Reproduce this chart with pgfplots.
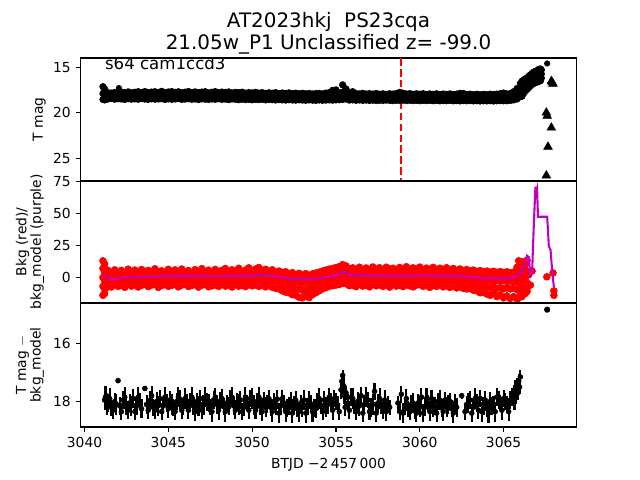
\documentclass[border=0pt]{standalone}
\usepackage{pgfplots}
\pgfplotsset{compat=1.18}
\usepackage{pgfplotstable}
\usepackage{fontspec}
\setmainfont{DejaVu Sans}
\definecolor{mpurple}{rgb}{0.75,0,0.75}

% Panel 1: T mag band (upper, middle, lower points)
\pgfplotstableread{
x a c b
3041.1 17.15 17.90 18.55
3041.2 17.40 18.00 18.60
3041.4 17.80 18.12 18.50
3041.6 17.85 18.18 18.45
3041.8 17.78 18.10 18.52
3042.0 17.82 18.20 18.48
3042.2 17.75 18.12 18.50
3042.4 17.80 18.15 18.55
3042.6 17.72 18.08 18.47
3042.8 17.83 18.20 18.52
3043.0 17.76 18.10 18.49
3043.2 17.70 18.14 18.53
3043.4 17.79 18.12 18.46
3043.6 17.68 18.08 18.51
3043.8 17.81 18.18 18.54
3044.0 17.74 18.10 18.48
3044.2 17.70 18.12 18.52
3044.4 17.78 18.16 18.50
3044.6 17.66 18.05 18.47
3044.8 17.80 18.18 18.55
3045.0 17.73 18.10 18.49
3045.2 17.69 18.12 18.53
3045.4 17.77 18.15 18.50
3045.6 17.71 18.08 18.46
3045.8 17.82 18.19 18.54
3046.0 17.75 18.13 18.51
3046.2 17.68 18.07 18.48
3046.4 17.79 18.16 18.53
3046.6 17.72 18.10 18.50
3046.8 17.80 18.19 18.56
3047.0 17.74 18.12 18.49
3047.2 17.70 18.10 18.52
3047.4 17.83 18.20 18.55
3047.6 17.76 18.14 18.50
3047.8 17.69 18.10 18.53
3048.0 17.81 18.15 18.48
3048.2 17.74 18.13 18.54
3048.4 17.78 18.15 18.51
3048.6 17.72 18.14 18.57
3048.8 17.84 18.18 18.50
3049.0 17.77 18.15 18.53
3049.2 17.80 18.20 18.58
3049.4 17.75 18.14 18.52
3049.6 17.86 18.22 18.56
3049.8 17.79 18.16 18.54
3050.0 17.83 18.21 18.59
3050.2 17.77 18.16 18.55
3050.4 17.85 18.22 18.57
3050.6 17.80 18.17 18.53
3050.8 17.88 18.24 18.60
3051.0 17.82 18.19 18.56
3051.2 17.86 18.22 18.58
3051.4 17.80 18.20 18.61
3051.6 17.89 18.23 18.57
3051.8 17.84 18.22 18.60
3052.0 17.88 18.25 18.62
3052.2 17.83 18.20 18.58
3052.4 17.90 18.26 18.61
3052.6 17.86 18.24 18.63
3052.8 17.92 18.26 18.59
3053.0 17.87 18.25 18.62
3053.2 17.93 18.28 18.64
3053.4 17.89 18.24 18.60
3053.6 17.95 18.29 18.63
3053.8 17.90 18.27 18.65
3054.0 17.88 18.24 18.61
3054.2 17.94 18.29 18.64
3054.4 17.85 18.23 18.62
3054.6 17.80 18.20 18.60
3054.8 17.55 18.10 18.63
3055.0 17.50 18.05 18.60
3055.2 17.80 18.19 18.58
3055.4 16.95 17.75 18.55
3055.6 17.40 17.95 18.50
3055.8 17.85 18.24 18.62
3056.0 17.70 18.15 18.60
3056.2 17.90 18.27 18.64
3056.4 17.94 18.28 18.61
3056.6 17.88 18.26 18.65
3056.8 17.95 18.29 18.62
3057.0 17.91 18.28 18.66
3057.2 17.96 18.30 18.63
3057.4 17.90 18.28 18.67
3057.6 17.97 18.31 18.64
3057.8 17.93 18.30 18.66
3058.0 17.98 18.30 18.62
3058.2 17.92 18.28 18.65
3058.4 17.96 18.32 18.68
3058.6 17.90 18.27 18.64
3058.8 17.78 18.22 18.66
3059.0 17.85 18.24 18.63
3059.2 17.95 18.31 18.67
3059.4 17.91 18.28 18.64
3059.6 17.98 18.33 18.68
3059.8 17.93 18.29 18.65
3060.0 17.97 18.33 18.69
3060.2 17.92 18.29 18.66
3060.4 17.99 18.34 18.68
3060.6 17.94 18.30 18.65
3060.8 17.98 18.33 18.69
3061.0 17.93 18.30 18.66
3061.2 18.00 18.35 18.70
3061.4 17.95 18.31 18.67
3061.6 17.99 18.34 18.69
3061.8 17.94 18.30 18.66
3062.0 18.01 18.36 18.70
3062.2 17.96 18.32 18.68
3062.4 17.88 18.30 18.71
3062.6 17.90 18.28 18.67
3062.8 18.00 18.35 18.70
3063.0 17.97 18.32 18.68
3063.2 18.02 18.36 18.71
3063.4 17.98 18.33 18.69
3063.6 18.03 18.38 18.72
3063.8 17.99 18.34 18.70
3064.0 18.02 18.36 18.71
3064.2 17.97 18.33 18.69
3064.4 18.01 18.37 18.72
3064.6 17.96 18.33 18.70
3064.8 17.92 18.30 18.68
3065.0 17.85 18.27 18.70
3065.2 17.95 18.32 18.69
3065.4 17.90 18.28 18.66
3065.6 17.70 18.15 18.60
3065.8 17.35 17.95 18.50
3066.0 16.80 17.55 18.25
}\tabOne

% Panel 1: late rise (upper, middle, lower)
\pgfplotstableread{
x a m b
3066.1 16.55 17.40 18.20
3066.2 16.40 17.10 17.85
3066.3 16.30 16.90 17.60
3066.4 16.20 16.80 17.45
3066.5 16.00 16.60 17.25
3066.6 15.85 16.40 17.05
3066.7 15.70 16.25 16.90
3066.8 15.55 16.10 16.80
3066.9 15.45 16.00 16.70
3067.0 15.40 15.95 16.65
3067.1 15.25 15.85 16.55
3067.2 15.20 15.80 16.50
3067.25 15.30 15.75 16.20
}\tabOneb

% Panel 2: background points (five levels per time)
\pgfplotstableread{
x u a m b l
3041.1 13.0 7.0 0.0 -7.0 -14.0
3041.2 10.5 4.0 -3.0 -9.0 -12.5
3041.3 6.0 2.0 -1.0 -4.0 -8.0
3041.4 5.5 1.5 -1.5 -4.5 -6.5
3041.6 3.5 1.0 -2.0 -4.0 -7.5
3041.8 6.0 2.5 -1.0 -3.5 -5.5
3042.0 4.0 0.5 -2.5 -5.0 -7.0
3042.2 5.5 2.0 -0.5 -3.0 -6.0
3042.4 3.0 1.5 -1.5 -4.5 -7.8
3042.6 6.5 2.8 0.0 -3.2 -5.2
3042.8 4.2 0.8 -2.0 -4.8 -6.8
3043.0 5.8 2.2 -1.2 -3.8 -5.8
3043.2 3.5 1.2 -0.8 -4.2 -7.5
3043.4 6.2 3.0 -1.8 -3.0 -6.2
3043.6 4.8 1.0 -0.5 -5.2 -5.0
3043.8 5.5 2.5 -1.5 -3.5 -7.2
3044.0 3.8 0.8 -2.2 -4.5 -6.0
3044.2 6.8 2.0 -0.2 -3.8 -5.5
3044.4 4.5 1.5 -1.0 -5.0 -7.8
3044.6 5.2 2.8 -1.8 -3.2 -6.4
3044.8 3.6 1.2 -0.6 -4.4 -5.3
3045.0 6.4 2.4 -1.4 -3.6 -7.0
3045.2 4.4 0.6 -0.4 -4.8 -6.2
3045.4 5.9 2.6 -2.0 -3.4 -5.6
3045.6 3.9 1.4 -0.8 -5.2 -7.4
3045.8 6.6 2.2 -1.2 -3.0 -6.0
3046.0 4.6 0.9 -0.3 -4.6 -5.2
3046.2 5.4 2.9 -1.7 -3.9 -7.1
3046.4 3.7 1.6 -0.9 -4.3 -6.3
3046.6 6.1 2.1 -1.3 -3.3 -5.7
3046.8 4.3 0.7 -0.5 -5.0 -7.6
3047.0 6.9 2.7 -1.9 -3.7 -6.1
3047.2 4.0 1.3 -0.7 -4.1 -5.4
3047.4 5.7 2.3 -1.1 -3.5 -7.3
3047.6 3.8 0.5 -0.2 -4.9 -6.6
3047.8 6.3 2.6 -1.6 -3.1 -5.9
3048.0 4.7 1.1 -0.9 -4.7 -7.0
3048.2 5.5 2.8 -1.4 -3.6 -5.5
3048.4 7.0 1.7 -0.4 -4.4 -6.8
3048.6 4.1 2.2 -1.8 -3.3 -6.0
3048.8 6.0 1.0 -0.6 -5.1 -7.5
3049.0 4.9 2.5 -1.2 -3.8 -5.6
3049.2 7.2 1.8 -0.3 -4.2 -6.9
3049.4 4.4 2.9 -1.5 -3.4 -6.2
3049.6 5.8 1.4 -0.1 -4.8 -7.2
3049.8 7.5 3.1 0.2 -3.6 -5.8
3050.0 5.0 2.0 -0.5 -4.0 -6.6
3050.2 6.6 3.3 0.5 -3.2 -5.9
3050.4 7.8 2.5 -0.2 -4.5 -7.0
3050.6 5.2 3.0 0.4 -3.5 -6.0
3050.8 6.4 2.2 -0.7 -4.1 -7.4
3051.0 4.8 1.6 -0.3 -4.6 -6.3
3051.2 6.0 2.4 -1.0 -5.2 -7.8
3051.4 4.2 1.2 -1.6 -5.5 -8.5
3051.6 5.0 0.8 -2.2 -6.0 -9.0
3051.8 3.6 0.5 -2.8 -6.8 -10.5
3052.0 4.5 0.2 -2.5 -7.5 -11.5
3052.2 2.8 -0.5 -3.5 -8.0 -12.0
3052.4 3.8 0.0 -3.0 -8.5 -13.5
3052.6 2.2 -0.8 -4.0 -9.5 -14.0
3052.8 3.2 -0.2 -3.6 -9.0 -15.5
3053.0 1.8 -1.0 -4.5 -10.0 -16.0
3053.2 3.0 -0.5 -4.0 -9.5 -14.5
3053.4 1.5 -1.2 -5.0 -10.5 -15.8
3053.6 2.8 -0.4 -3.5 -8.5 -13.5
3053.8 3.5 0.0 -3.0 -7.5 -12.0
3054.0 4.2 0.8 -2.5 -6.5 -10.5
3054.2 5.0 1.5 -2.0 -5.5 -9.0
3054.4 5.8 2.0 -1.5 -5.0 -8.0
3054.6 6.5 2.5 -0.8 -4.5 -7.0
3054.8 7.0 3.2 0.0 -4.0 -6.5
3055.0 7.8 3.8 0.8 -3.5 -6.0
3055.2 8.5 4.2 1.5 -3.0 -5.5
3055.4 10.0 5.5 2.5 -2.0 -4.5
3055.6 9.0 4.8 1.8 -2.5 -5.0
3055.8 7.0 3.0 0.5 -3.5 -6.5
3056.0 7.5 3.5 0.0 -3.5 -6.0
3056.2 6.0 2.8 -0.5 -4.0 -7.2
3056.4 8.0 3.2 0.4 -3.0 -5.5
3056.6 6.2 2.4 -0.8 -4.4 -6.8
3056.8 7.4 3.6 0.2 -3.4 -6.0
3057.0 5.8 2.6 -0.4 -4.2 -7.4
3057.2 8.2 3.0 0.6 -3.6 -5.6
3057.4 6.4 2.2 -0.6 -4.6 -6.6
3057.6 7.6 3.4 0.0 -3.2 -5.8
3057.8 6.0 2.6 -0.2 -4.0 -7.0
3058.0 8.0 3.8 0.5 -3.8 -6.2
3058.2 6.6 2.4 -0.7 -4.4 -7.6
3058.4 7.2 3.2 0.3 -3.0 -5.4
3058.6 5.9 2.8 -0.5 -4.2 -6.8
3058.8 7.8 3.4 0.1 -3.6 -6.0
3059.0 6.3 2.2 -0.3 -4.8 -7.2
3059.2 8.4 3.6 0.4 -3.4 -5.8
3059.4 6.1 2.6 -0.6 -4.0 -6.6
3059.6 7.5 3.0 0.2 -3.8 -7.4
3059.8 6.5 2.4 -0.8 -4.6 -6.0
3060.0 8.1 3.8 0.0 -3.2 -5.6
3060.2 6.0 2.8 -0.4 -4.4 -7.0
3060.4 7.3 3.2 0.3 -3.6 -6.4
3060.6 6.4 2.2 -0.5 -4.2 -7.8
3060.8 7.9 3.4 0.1 -3.8 -6.2
3061.0 5.8 2.6 -0.6 -4.6 -7.0
3061.2 7.2 3.0 0.2 -3.4 -5.8
3061.4 6.2 2.4 -0.7 -4.8 -7.4
3061.6 7.6 3.2 -0.1 -3.6 -6.6
3061.8 5.6 2.0 -0.5 -4.4 -7.8
3062.0 7.0 2.8 0.0 -4.0 -6.8
3062.2 5.4 2.2 -0.9 -5.0 -8.2
3062.4 6.6 3.0 -0.3 -4.4 -7.4
3062.6 5.2 1.8 -1.0 -5.4 -8.6
3062.8 6.2 2.4 -0.5 -4.8 -9.0
3063.0 5.0 1.6 -1.2 -5.6 -8.8
3063.2 5.8 2.0 -1.5 -6.0 -10.0
3063.4 4.6 1.2 -1.8 -6.5 -10.5
3063.6 5.4 1.8 -1.4 -7.0 -12.0
3063.8 4.4 1.0 -2.0 -6.8 -11.5
3064.0 5.0 1.5 -2.5 -7.5 -13.0
3064.2 4.2 0.8 -2.2 -8.0 -14.0
3064.4 4.8 1.2 -2.8 -7.2 -12.5
3064.6 4.0 0.6 -2.4 -8.5 -15.0
3064.8 4.6 1.0 -3.0 -8.0 -13.5
3065.0 3.8 0.4 -2.6 -8.8 -16.0
3065.2 4.4 0.9 -3.2 -8.2 -14.5
3065.4 3.6 0.2 -2.8 -9.0 -16.5
3065.6 4.2 0.8 -3.5 -8.5 -15.0
3065.8 8.0 3.0 -2.0 -9.5 -17.0
3065.9 13.0 6.0 -4.0 -10.0 -16.0
3066.0 10.5 4.0 -1.0 -8.0 -14.0
3066.1 12.5 2.0 -6.0 -10.5 -15.0
3066.2 7.0 1.0 -3.0 -7.0 -12.0
3066.3 10.0 4.0 -2.0 -6.0 -12.5
3066.4 13.5 5.0 -4.5 -9.0 -11.0
}\tabTwo

% Panel 3: T mag - bkg_model with errors (first set)
\pgfplotstableread{
x y e
3041.2 17.95 0.35
3041.3 17.80 0.30
3041.4 18.05 0.30
3041.6 18.20 0.30
3041.8 18.00 0.28
3042.0 17.28 0.06
3042.1 18.15 0.30
3042.3 17.95 0.32
3042.5 18.20 0.28
3042.7 18.05 0.30
3042.9 17.90 0.33
3043.1 18.15 0.30
3043.3 18.00 0.28
3043.6 17.55 0.08
3043.7 18.10 0.32
3043.9 17.95 0.30
3044.1 18.20 0.30
3044.3 18.00 0.33
3044.5 17.90 0.30
3044.7 18.15 0.28
3044.9 18.05 0.32
3045.1 17.95 0.30
3045.3 18.20 0.30
3045.5 18.00 0.28
3045.7 17.92 0.33
3045.9 18.18 0.30
3046.1 18.05 0.30
3046.3 17.98 0.28
3046.5 18.15 0.32
3046.7 18.00 0.30
3046.9 17.90 0.30
3047.1 18.12 0.33
3047.3 18.02 0.30
3047.5 18.20 0.28
3047.7 17.95 0.30
3047.9 18.10 0.32
3048.1 17.98 0.30
3048.3 18.18 0.30
3048.5 18.05 0.28
3048.7 17.92 0.33
3048.9 18.15 0.30
3049.1 18.02 0.30
3049.3 17.95 0.32
3049.5 18.20 0.30
3049.7 18.05 0.28
3049.9 17.90 0.30
3050.1 18.12 0.33
3050.3 18.00 0.30
3050.5 18.18 0.30
3050.7 17.95 0.28
3050.9 18.08 0.32
3051.1 18.20 0.30
3051.3 18.00 0.30
3051.5 17.92 0.33
3051.7 18.15 0.30
3051.9 18.05 0.28
3052.1 18.22 0.30
3052.3 17.98 0.32
3052.5 18.12 0.30
3052.7 18.25 0.30
3052.9 18.05 0.28
3053.1 17.95 0.33
3053.3 18.18 0.30
3053.5 18.08 0.30
3053.7 18.22 0.32
3053.9 18.00 0.30
3054.1 18.15 0.28
3054.3 17.95 0.30
3054.5 18.10 0.33
3054.7 18.02 0.30
3054.9 17.90 0.30
3055.1 18.12 0.32
3055.3 17.60 0.30
3055.35 17.30 0.30
3055.4 17.10 0.20
3055.45 17.45 0.30
3055.5 17.80 0.30
3055.7 18.05 0.30
3055.9 17.85 0.30
3056.1 18.15 0.28
3056.3 18.00 0.32
3056.5 17.80 0.30
3056.7 18.10 0.30
3056.9 17.95 0.28
3057.1 18.20 0.32
3057.3 17.65 0.30
3057.5 18.05 0.30
3057.7 18.15 0.28
3057.9 17.95 0.33
3058.1 18.10 0.30
3058.2 18.20 0.25
3058.7 18.05 0.25
3058.9 17.75 0.30
3059.1 18.15 0.30
3059.3 18.25 0.28
3059.5 18.10 0.32
3059.7 18.30 0.30
3059.9 18.05 0.30
3060.1 17.85 0.33
3060.3 18.20 0.30
3060.5 18.05 0.28
3060.7 17.90 0.30
3060.9 18.15 0.32
3061.1 18.00 0.30
3061.3 18.22 0.30
3061.5 17.95 0.28
3061.7 18.10 0.33
3061.9 18.25 0.30
3062.1 18.05 0.30
3062.5 17.80 0.10
3062.8 18.10 0.30
3063.0 17.95 0.30
3063.2 18.20 0.28
3063.4 18.05 0.32
3063.6 17.90 0.30
3063.8 18.15 0.30
3064.0 18.25 0.28
3064.2 18.00 0.33
3064.4 18.12 0.30
3064.6 17.85 0.30
3064.8 18.05 0.28
3065.0 17.90 0.30
3065.2 18.10 0.30
3065.4 17.95 0.30
3065.6 17.70 0.28
3065.7 17.55 0.28
3065.8 17.45 0.25
3065.9 17.30 0.25
3066.0 17.15 0.25
}\tabThree

% Panel 3: second set of points in between
\pgfplotstableread{
x y e
3041.25 17.85 0.40
3041.35 18.10 0.35
3041.5 17.90 0.35
3041.7 18.30 0.32
3041.9 18.10 0.35
3042.2 18.35 0.30
3042.4 17.85 0.35
3042.6 18.30 0.32
3042.8 18.15 0.35
3043.0 18.35 0.30
3043.2 17.85 0.35
3043.4 18.25 0.32
3043.8 18.30 0.30
3044.0 17.80 0.35
3044.2 18.30 0.32
3044.4 18.15 0.35
3044.6 18.35 0.30
3044.8 17.85 0.35
3045.0 18.25 0.32
3045.2 18.10 0.35
3045.4 18.35 0.30
3045.6 17.85 0.35
3045.8 18.30 0.32
3046.0 17.90 0.35
3046.2 18.30 0.30
3046.4 17.85 0.35
3046.6 18.35 0.32
3046.8 18.15 0.35
3047.0 18.30 0.30
3047.2 17.85 0.35
3047.4 18.05 0.32
3047.6 18.35 0.35
3047.8 17.85 0.30
3048.0 18.30 0.35
3048.2 17.90 0.32
3048.4 18.35 0.35
3048.6 18.15 0.30
3048.8 17.85 0.35
3049.0 18.30 0.32
3049.2 18.10 0.35
3049.4 18.35 0.30
3049.6 17.85 0.35
3049.8 18.30 0.32
3050.0 17.90 0.35
3050.2 18.30 0.30
3050.4 17.85 0.35
3050.6 18.35 0.32
3050.8 18.20 0.35
3051.0 17.90 0.30
3051.2 18.35 0.35
3051.4 18.15 0.32
3051.6 18.40 0.35
3051.8 17.90 0.30
3052.0 18.35 0.35
3052.2 18.15 0.32
3052.4 18.40 0.35
3052.6 17.95 0.30
3052.8 18.35 0.35
3053.0 18.20 0.32
3053.2 18.40 0.35
3053.4 17.95 0.30
3053.6 18.35 0.35
3053.8 18.25 0.32
3054.0 17.90 0.35
3054.2 18.35 0.30
3054.4 18.20 0.35
3054.6 17.85 0.32
3054.8 18.30 0.35
3055.0 18.00 0.30
3055.2 18.35 0.30
3055.55 18.20 0.30
3055.6 17.70 0.25
3055.8 18.30 0.32
3056.0 17.90 0.35
3056.2 18.35 0.30
3056.4 18.15 0.35
3056.6 18.40 0.32
3056.8 17.85 0.35
3057.0 18.35 0.30
3057.2 18.10 0.35
3057.4 18.40 0.32
3057.6 17.90 0.35
3057.8 18.30 0.30
3058.0 18.35 0.32
3058.8 18.35 0.30
3059.0 18.40 0.35
3059.2 17.90 0.32
3059.4 18.35 0.30
3059.6 18.05 0.35
3059.8 18.40 0.32
3060.0 18.20 0.35
3060.2 18.40 0.30
3060.4 17.90 0.35
3060.6 18.35 0.32
3060.8 18.20 0.35
3061.0 18.40 0.30
3061.2 17.95 0.35
3061.4 18.35 0.32
3061.6 18.20 0.35
3061.8 18.00 0.30
3062.0 18.40 0.35
3062.2 18.20 0.32
3062.7 18.35 0.30
3062.9 18.05 0.35
3063.1 18.40 0.32
3063.3 17.90 0.35
3063.5 18.30 0.30
3063.7 18.35 0.35
3063.9 17.95 0.32
3064.1 18.40 0.35
3064.3 18.15 0.30
3064.5 18.35 0.35
3064.7 17.95 0.32
3064.9 18.30 0.35
3065.1 18.00 0.30
3065.3 18.35 0.32
3065.5 17.85 0.30
3065.65 18.00 0.30
3065.75 17.80 0.28
3065.85 17.70 0.25
3065.95 17.50 0.25
}\tabThreeb

\pgfplotsset{
  panel/.style={
    scale only axis,
    width=4.96in,
    xmin=3039.76, xmax=3069.35,
    anchor=south west,
    clip marker paths=true,
    axis line style={line width=0.8pt, black},
    tick style={line width=0.8pt, black},
    tick align=outside,
    major tick length=3.5pt,
    xtick pos=left, ytick pos=left,
    tick label style={font=\fontsize{10}{12}\selectfont},
    label style={font=\fontsize{10}{10.5}\selectfont},
    /pgf/number format/assume math mode=true,
    /pgf/number format/1000 sep={},
    scaled x ticks=false, scaled y ticks=false,
    ylabel style={align=center, anchor=center},
  }
}

\begin{document}
\begin{tikzpicture}
\useasboundingbox (0,0) rectangle (6.4in,4.8in);

% ---------------- Panel 1 ----------------
\begin{axis}[panel,
  at={(0.805in,2.99in)}, height=1.23in,
  ymin=14.0, ymax=27.5, y dir=reverse,
  ytick={15,20,25},
  xtick=\empty,
  ylabel={T mag},
  ylabel style={at={(axis description cs:-0.083,0.5)}},
  title={AT2023hkj\ \ PS23cqa\\21.05w\_P1 Unclassified z= -99.0},
  title style={align=center, font=\fontsize{14.4}{15.8}\selectfont,
    at={(axis description cs:0.5,1)}, anchor=south, inner sep=0pt, yshift=-3.1pt},
]
\addplot[red, line width=1.5pt, dash pattern=on 5.5pt off 2.4pt] coordinates {(3058.9,14.0) (3058.9,27.5)};
\addplot[only marks, mark=*, mark size=2.4pt, black] table[x=x,y=a]{\tabOne};
\addplot[only marks, mark=*, mark size=2.4pt, black] table[x=x,y=c]{\tabOne};
\addplot[only marks, mark=*, mark size=2.4pt, black] table[x=x,y=b]{\tabOne};
\addplot[only marks, mark=*, mark size=2.4pt, black] table[x=x,y=a]{\tabOneb};
\addplot[only marks, mark=*, mark size=2.4pt, black] table[x=x,y=m]{\tabOneb};
\addplot[only marks, mark=*, mark size=2.4pt, black] table[x=x,y=b]{\tabOneb};
\addplot[only marks, mark=*, mark size=2.0pt, black] coordinates {(3042.05,17.30) (3067.6,14.6)};
\addplot[only marks, mark=triangle*, mark size=3.6pt, black] coordinates {
  (3067.85,16.55) (3067.95,16.85) (3067.9,16.7)
  (3067.55,20.0) (3067.6,20.35) (3067.85,21.65)
  (3067.65,23.75) (3067.55,26.9)};
\node[anchor=base west, inner sep=0pt, font=\fontsize{12}{14}\selectfont]
  at (axis description cs:0.049,0.91) {s64 cam1ccd3};
\end{axis}

% ---------------- Panel 2 ----------------
\begin{axis}[panel,
  at={(0.805in,1.77in)}, height=1.22in,
  ymin=-20, ymax=75.5,
  ytick={0,25,50,75},
  xtick=\empty,
  ylabel={Bkg (red)/\\bkg\_model (purple)},
  ylabel style={at={(axis description cs:-0.102,0.5)}},
]
\addplot[only marks, mark=*, mark size=2.5pt, red] table[x=x,y=u]{\tabTwo};
\addplot[only marks, mark=*, mark size=2.5pt, red] table[x=x,y=a]{\tabTwo};
\addplot[only marks, mark=*, mark size=2.5pt, red] table[x=x,y=m]{\tabTwo};
\addplot[only marks, mark=*, mark size=2.5pt, red] table[x=x,y=b]{\tabTwo};
\addplot[only marks, mark=*, mark size=2.5pt, red] table[x=x,y=l]{\tabTwo};
\addplot[only marks, mark=*, mark size=2.5pt, red] coordinates {
  (3066.5,2.0) (3066.6,-6.0) (3066.7,5.0) (3067.58,0.5)
  (3067.95,3.5) (3068.0,-10.5) (3068.0,-14.0)};
\addplot[mpurple, line width=1.5pt] coordinates {
  (3041.1,1.5) (3041.3,1.0) (3041.6,-1.5) (3041.9,-0.8) (3042.3,0.0)
  (3043.0,0.5) (3044.0,0.8) (3045.0,1.0) (3046.0,0.9) (3047.0,1.0)
  (3048.0,0.8) (3049.0,1.1) (3050.0,1.5) (3050.5,2.0) (3051.0,1.2)
  (3051.5,1.0) (3052.0,-0.5) (3052.5,-1.0) (3053.0,-1.4) (3053.5,-1.0)
  (3054.0,-0.5) (3054.5,0.3) (3055.0,2.0) (3055.45,4.6) (3055.8,2.0)
  (3056.5,1.5) (3057.5,1.5) (3058.5,1.3) (3059.5,1.4) (3060.5,1.5)
  (3061.5,1.3) (3062.5,1.0) (3063.2,0.0) (3064.0,-0.5) (3064.6,-1.0)
  (3065.3,-0.5) (3065.8,1.0) (3066.1,5.0) (3066.3,12.0) (3066.4,17.0)
  (3066.5,16.0) (3066.6,2.0) (3066.7,4.0) (3066.8,40.0) (3066.9,71.0)
  (3066.95,66.0) (3067.0,69.0) (3067.05,47.5) (3067.6,47.5) (3067.7,24.4)
  (3067.8,21.7) (3067.9,5.0) (3068.0,-7.6)};
\end{axis}

% ---------------- Panel 3 ----------------
\begin{axis}[panel,
  at={(0.805in,0.53in)}, height=1.24in,
  ymin=14.6, ymax=18.88, y dir=reverse,
  ytick={16,18},
  xtick={3040,3045,3050,3055,3060,3065},
  ylabel={T mag $-$\\bkg\_model},
  ylabel style={at={(axis description cs:-0.102,0.5)}},
  xlabel={BTJD −2\,457\,000},
  xlabel style={at={(axis description cs:0.5,0)}, anchor=center, yshift=-27.5pt},
]
\addplot[only marks, black, mark=*, mark size=1.8pt,
  error bars/.cd, y dir=both, y explicit,
  error bar style={line width=1.5pt, black}, error mark=none]
  table[x=x, y=y, y error=e]{\tabThree};
\addplot[only marks, black, mark=*, mark size=1.8pt,
  error bars/.cd, y dir=both, y explicit,
  error bar style={line width=1.5pt, black}, error mark=none]
  table[x=x, y=y, y error=e]{\tabThreeb};
\addplot[only marks, black, mark=*, mark size=2.0pt] coordinates {(3067.6,14.83)};
\end{axis}
\end{tikzpicture}
\end{document}
